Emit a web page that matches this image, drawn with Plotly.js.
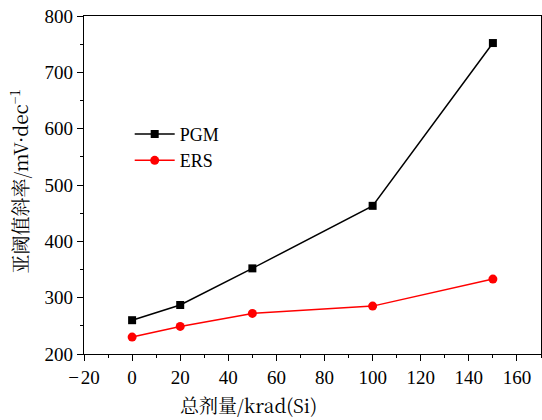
<!DOCTYPE html>
<html><head><meta charset="utf-8">
<script src="https://cdn.plot.ly/plotly-3.0.1.min.js"></script>
<style>body{margin:0}#c{width:542px;height:420px}</style>
</head><body><div id="c"></div>
<script>
const dose = [0, 20, 50, 100, 150];
const pgm = [260, 287, 352, 463, 752];
const ers = [230, 249, 272, 285, 333];
const xTicks = [-20, 0, 20, 40, 60, 80, 100, 120, 140, 160];
const xTickText = ['\u2212\u200a20', '0', '20', '40', '60', '80', '100', '120', '140', '160'];
const xTitle = '总剂量/krad(Si)';
const yTitle = '亚阈值斜率/mV·dec<sup>−1</sup>';

const serif = 'Liberation Serif, DejaVu Serif, serif';
const cjk = 'Noto Serif CJK SC, Liberation Serif, serif';
const traces = [
  {x: dose, y: pgm, name: 'PGM', mode: 'lines+markers',
   line: {color: '#000', width: 1.5}, marker: {symbol: 'square', size: 8, color: '#000'}},
  {x: dose, y: ers, name: 'ERS', mode: 'lines+markers',
   line: {color: '#ff0000', width: 1.5}, marker: {symbol: 'circle', size: 9, color: '#ff0000'}}
];
const layout = {
  width: 542, height: 420,
  margin: {l: 84, r: 1, t: 16, b: 66},
  paper_bgcolor: '#fff', plot_bgcolor: '#fff',
  font: {family: serif, size: 18, color: '#000'},
  showlegend: true,
  legend: {x: 0.1, y: 0.705, xanchor: 'left', yanchor: 'top', bgcolor: 'rgba(0,0,0,0)',
           font: {family: serif, size: 18, color: '#000'}, tracegroupgap: 0, itemwidth: 40},
  xaxis: {range: [-20, 170], tickvals: xTicks, ticktext: xTickText,
          ticks: 'outside', ticklen: 6, tickwidth: 1, tickcolor: '#000',
          showline: true, linecolor: '#000', linewidth: 1.2, mirror: true,
          showgrid: false, zeroline: false,
          minor: {dtick: 10, ticks: 'outside', ticklen: 3, tickcolor: '#000', showgrid: false},
          tickfont: {family: serif, size: 19, color: '#000'}},
  yaxis: {range: [200, 800], dtick: 100, tick0: 200,
          ticks: 'outside', ticklen: 6, tickwidth: 1, tickcolor: '#000',
          showline: true, linecolor: '#000', linewidth: 1.2, mirror: true,
          showgrid: false, zeroline: false,
          minor: {dtick: 50, ticks: 'outside', ticklen: 3, tickcolor: '#000', showgrid: false},
          tickfont: {family: serif, size: 19, color: '#000'}},
  annotations: [
    {text: xTitle, xref: 'paper', yref: 'paper', x: (248 - 84) / 457, y: -(404 - 354) / 338,
     xanchor: 'center', yanchor: 'middle', showarrow: false,
     font: {family: cjk, size: 19, color: '#000'}},
    {text: yTitle, xref: 'paper', yref: 'paper', x: -(84 - 19) / 457, y: 0.51,
     xanchor: 'center', yanchor: 'middle', showarrow: false, textangle: -90,
     font: {family: cjk, size: 19, color: '#000'}}
  ]
};
Plotly.newPlot('c', traces, layout, {displayModeBar: false, staticPlot: true});
</script></body></html>
